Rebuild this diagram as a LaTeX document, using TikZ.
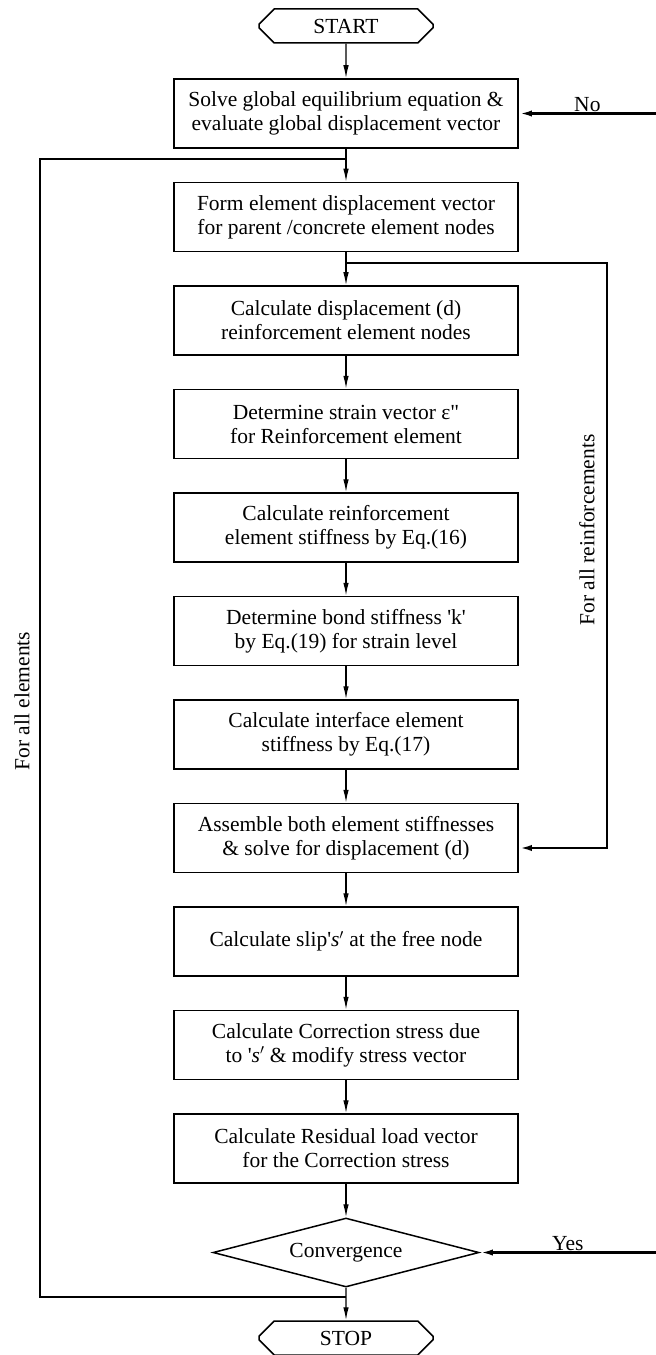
\documentclass[tikz,border=0pt]{standalone}
\usepackage{fontspec}
\setmainfont{Liberation Serif}
\usetikzlibrary{arrows.meta,shapes.geometric,shapes.misc}

\tikzset{
  procbox/.style={draw,line width=1.5bp,minimum width=344bp,minimum height=69bp,align=center,inner sep=2bp},
  termbox/.style={draw,line width=1.5bp,chamfered rectangle,chamfered rectangle xsep=11bp,chamfered rectangle ysep=8bp,minimum width=174bp,minimum height=34bp,inner sep=0pt},
  decision/.style={draw,line width=1.5bp,diamond,aspect=3.85,minimum width=266bp,minimum height=69bp,inner sep=0pt},
  flow/.style={line width=1.3bp,-{Latex[length=13bp,width=5.5bp]}},
  loopline/.style={line width=2.4bp},
  looparrow/.style={line width=2.4bp,-{Latex[length=13bp,width=6bp]}}
}

\begin{document}
\begin{tikzpicture}[x=1bp,y=-1bp,every node/.style={font=\fontsize{21.5bp}{24bp}\selectfont}]
\useasboundingbox (0,0) rectangle (656,1355);
% main column
\node[termbox] (start) at (346,26) {START};
\node[procbox] (b1) at (346,113.5) {Solve global equilibrium equation \&\\evaluate global displacement vector};
\node[procbox] (b2) at (346,217) {Form element displacement vector\\for parent /concrete element nodes};
\node[procbox] (b3) at (346,320.5) {Calculate displacement (d)\\reinforcement element nodes};
\node[procbox] (b4) at (346,424) {Determine strain vector ε\textquotedbl\\for Reinforcement element};
\node[procbox] (b5) at (346,527.5) {Calculate reinforcement\\element stiffness by Eq.(16)};
\node[procbox] (b6) at (346,631) {Determine bond stiffness \textquotesingle k\textquotesingle\\by Eq.(19) for strain level};
\node[procbox] (b7) at (346,734.5) {Calculate interface element\\stiffness by Eq.(17)};
\node[procbox] (b8) at (346,838) {Assemble both element stiffnesses\\\& solve for displacement (d)};
\node[procbox] (b9) at (346,941.5) {Calculate slip\textquotesingle\textit{s}$'$ at the free node};
\node[procbox] (b10) at (346,1045) {Calculate Correction stress due\\to \textquotesingle\textit{s}$'$ \& modify stress vector};
\node[procbox] (b11) at (346,1148.5) {Calculate Residual load vector\\for the Correction stress};
\node[decision] (conv) at (346,1252.5) {Convergence};
\node[termbox] (stop) at (346,1338) {STOP};
\draw[flow] (start) -- (b1);
\draw[flow] (b1) -- (b2);
\draw[flow] (b2) -- (b3);
\draw[flow] (b3) -- (b4);
\draw[flow] (b4) -- (b5);
\draw[flow] (b5) -- (b6);
\draw[flow] (b6) -- (b7);
\draw[flow] (b7) -- (b8);
\draw[flow] (b8) -- (b9);
\draw[flow] (b9) -- (b10);
\draw[flow] (b10) -- (b11);
\draw[flow] (b11) -- (conv);
\draw[flow] (conv) -- (stop);
% loop over all elements
\coordinate (eltop) at (346,159);
\coordinate (elbot) at (346,1297);
\draw[loopline] (eltop) -- ++(-306,0) |- (elbot);
\node[rotate=90] (elabel) at (22,701) {For all elements};
% loop over all reinforcements
\coordinate (retop) at (346,263);
\draw[looparrow] (retop) -- ++(261,0) |- ([yshift=-10bp]b8.east);
\node[rotate=90] (relabel) at (587,530) {For all reinforcements};
% incoming No / Yes lines
\coordinate (noin) at (656,113.5);
\coordinate (yesin) at (656,1252.5);
\draw[looparrow] (noin) -- node[above,inner sep=1bp] (nolabel) {No} (b1.east);
\draw[looparrow] (yesin) -- node[above,inner sep=1bp] (yeslabel) {Yes} (conv.east);
\end{tikzpicture}
\end{document}
